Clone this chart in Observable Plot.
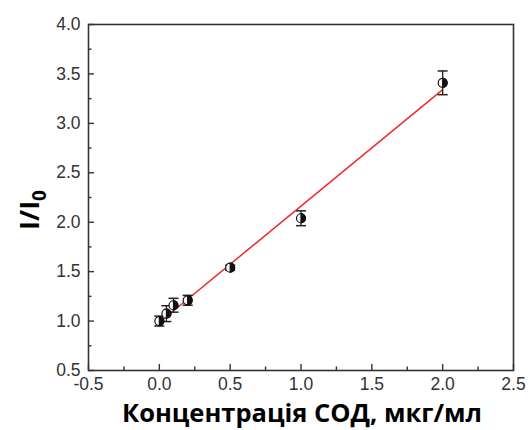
<!DOCTYPE html>
<html>
<head>
<meta charset="utf-8">
<script src="https://cdn.jsdelivr.net/npm/d3@7"></script>
<script src="https://cdn.jsdelivr.net/npm/@observablehq/plot@0.6"></script>
<style>
  body { margin: 0; background: #fff; }
  #chart { width: 530px; height: 430px; }
</style>
</head>
<body>
<div id="chart"></div>
<script>
// SOD concentration (µg/ml), relative intensity I/I0 and its error
const conc  = [0, 0.05, 0.1, 0.2, 0.5, 1.0, 2.0];
const ratio = [1.00, 1.075, 1.16, 1.21, 1.54, 2.04, 3.41];
const err   = [0.05, 0.08, 0.07, 0.05, 0.025, 0.075, 0.12];

const xMajor = [-0.5, 0, 0.5, 1.0, 1.5, 2.0, 2.5];
const xMinor = [-0.25, 0.25, 0.75, 1.25, 1.75, 2.25];
const yMajor = [0.5, 1.0, 1.5, 2.0, 2.5, 3.0, 3.5, 4.0];
const yMinor = [0.75, 1.25, 1.75, 2.25, 2.75, 3.25, 3.75];

const data = conc.map((c, i) => ({x: c, y: ratio[i], lo: ratio[i] - err[i], hi: ratio[i] + err[i]}));

// custom symbols
const radius = size => Math.sqrt(size / Math.PI);
const halfRight = {  // right half of a circle
  draw(ctx, size) {
    const r = radius(size);
    ctx.moveTo(0, -r);
    ctx.arc(0, 0, r, -Math.PI / 2, Math.PI / 2);
    ctx.closePath();
  }
};
const cap = {  // horizontal error-bar cap
  draw(ctx, size) {
    const r = radius(size);
    ctx.moveTo(-r, 0);
    ctx.lineTo(r, 0);
  }
};

const W = 530, H = 430;
const mL = 88, mR = 17, mT = 24, mB = 60;
const innerW = W - mL - mR, innerH = H - mT - mB;

const fmt = d => d.toFixed(1);
const ink = "#333";
const tickFont = "Arial, 'Liberation Sans', sans-serif";

// inward ticks: full-span rules shortened with insets
const xTicks = (vals, len) => Plot.ruleX(vals, {x: d => d, insetTop: innerH - len, stroke: ink, strokeWidth: 1.4});
const yTicks = (vals, len) => Plot.ruleY(vals, {y: d => d, insetRight: innerW - len, stroke: ink, strokeWidth: 1.4});

const chart = Plot.plot({
  width: W,
  height: H,
  marginLeft: mL,
  marginRight: mR,
  marginTop: mT,
  marginBottom: mB,
  style: {fontFamily: tickFont, fontSize: "17px", color: ink, background: "#fff"},
  x: {domain: [-0.5, 2.5]},
  y: {domain: [0.5, 4.0]},
  marks: [
    Plot.axisX(xMajor, {tickSize: 0, tickPadding: 7, tickFormat: fmt, label: null, fontSize: 17.5, fill: ink}),
    Plot.axisY(yMajor, {tickSize: 0, tickPadding: 8, tickFormat: fmt, label: null, fontSize: 17.5, fill: ink}),
    xTicks(xMajor, 6),
    xTicks(xMinor, 3.5),
    yTicks(yMajor, 6),
    yTicks(yMinor, 3.5),
    Plot.frame({stroke: ink, strokeWidth: 1.6}),
    Plot.linearRegressionY(data, {x: "x", y: "y", ci: 0, stroke: "#ee2a2a", strokeWidth: 1.5}),
    Plot.ruleX(data, {x: "x", y1: "lo", y2: "hi", stroke: "#222", strokeWidth: 1.3}),
    Plot.dot(data, {x: "x", y: "lo", symbol: cap, r: 5, stroke: "#222", strokeWidth: 1.5}),
    Plot.dot(data, {x: "x", y: "hi", symbol: cap, r: 5, stroke: "#222", strokeWidth: 1.5}),
    Plot.dot(data, {x: "x", y: "y", r: 4.5, fill: "#fff", stroke: "#111", strokeWidth: 1.2}),
    Plot.dot(data, {x: "x", y: "y", symbol: halfRight, r: 4.5, fill: "#111", stroke: "#111", strokeWidth: 1.2})
  ]
});

const svg = d3.select(chart);

// axis titles
svg.append("text")
  .attr("x", 302).attr("y", 422)
  .attr("text-anchor", "middle")
  .attr("font-family", "'Open Sans', sans-serif")
  .attr("font-weight", "bold")
  .attr("font-size", 25.5)
  .attr("fill", "#000")
  .text("Концентрація СОД, мкг/мл");

const yl = svg.append("text")
  .attr("transform", "translate(39,210) rotate(-90)")
  .attr("text-anchor", "middle")
  .attr("font-family", "'Open Sans', sans-serif")
  .attr("font-weight", "bold")
  .attr("font-size", 27)
  .attr("fill", "#000");
yl.append("tspan").text("I/I");
yl.append("tspan").attr("font-size", 19).attr("dy", 7).text("0");

document.getElementById("chart").appendChild(chart);
</script>
</body>
</html>
